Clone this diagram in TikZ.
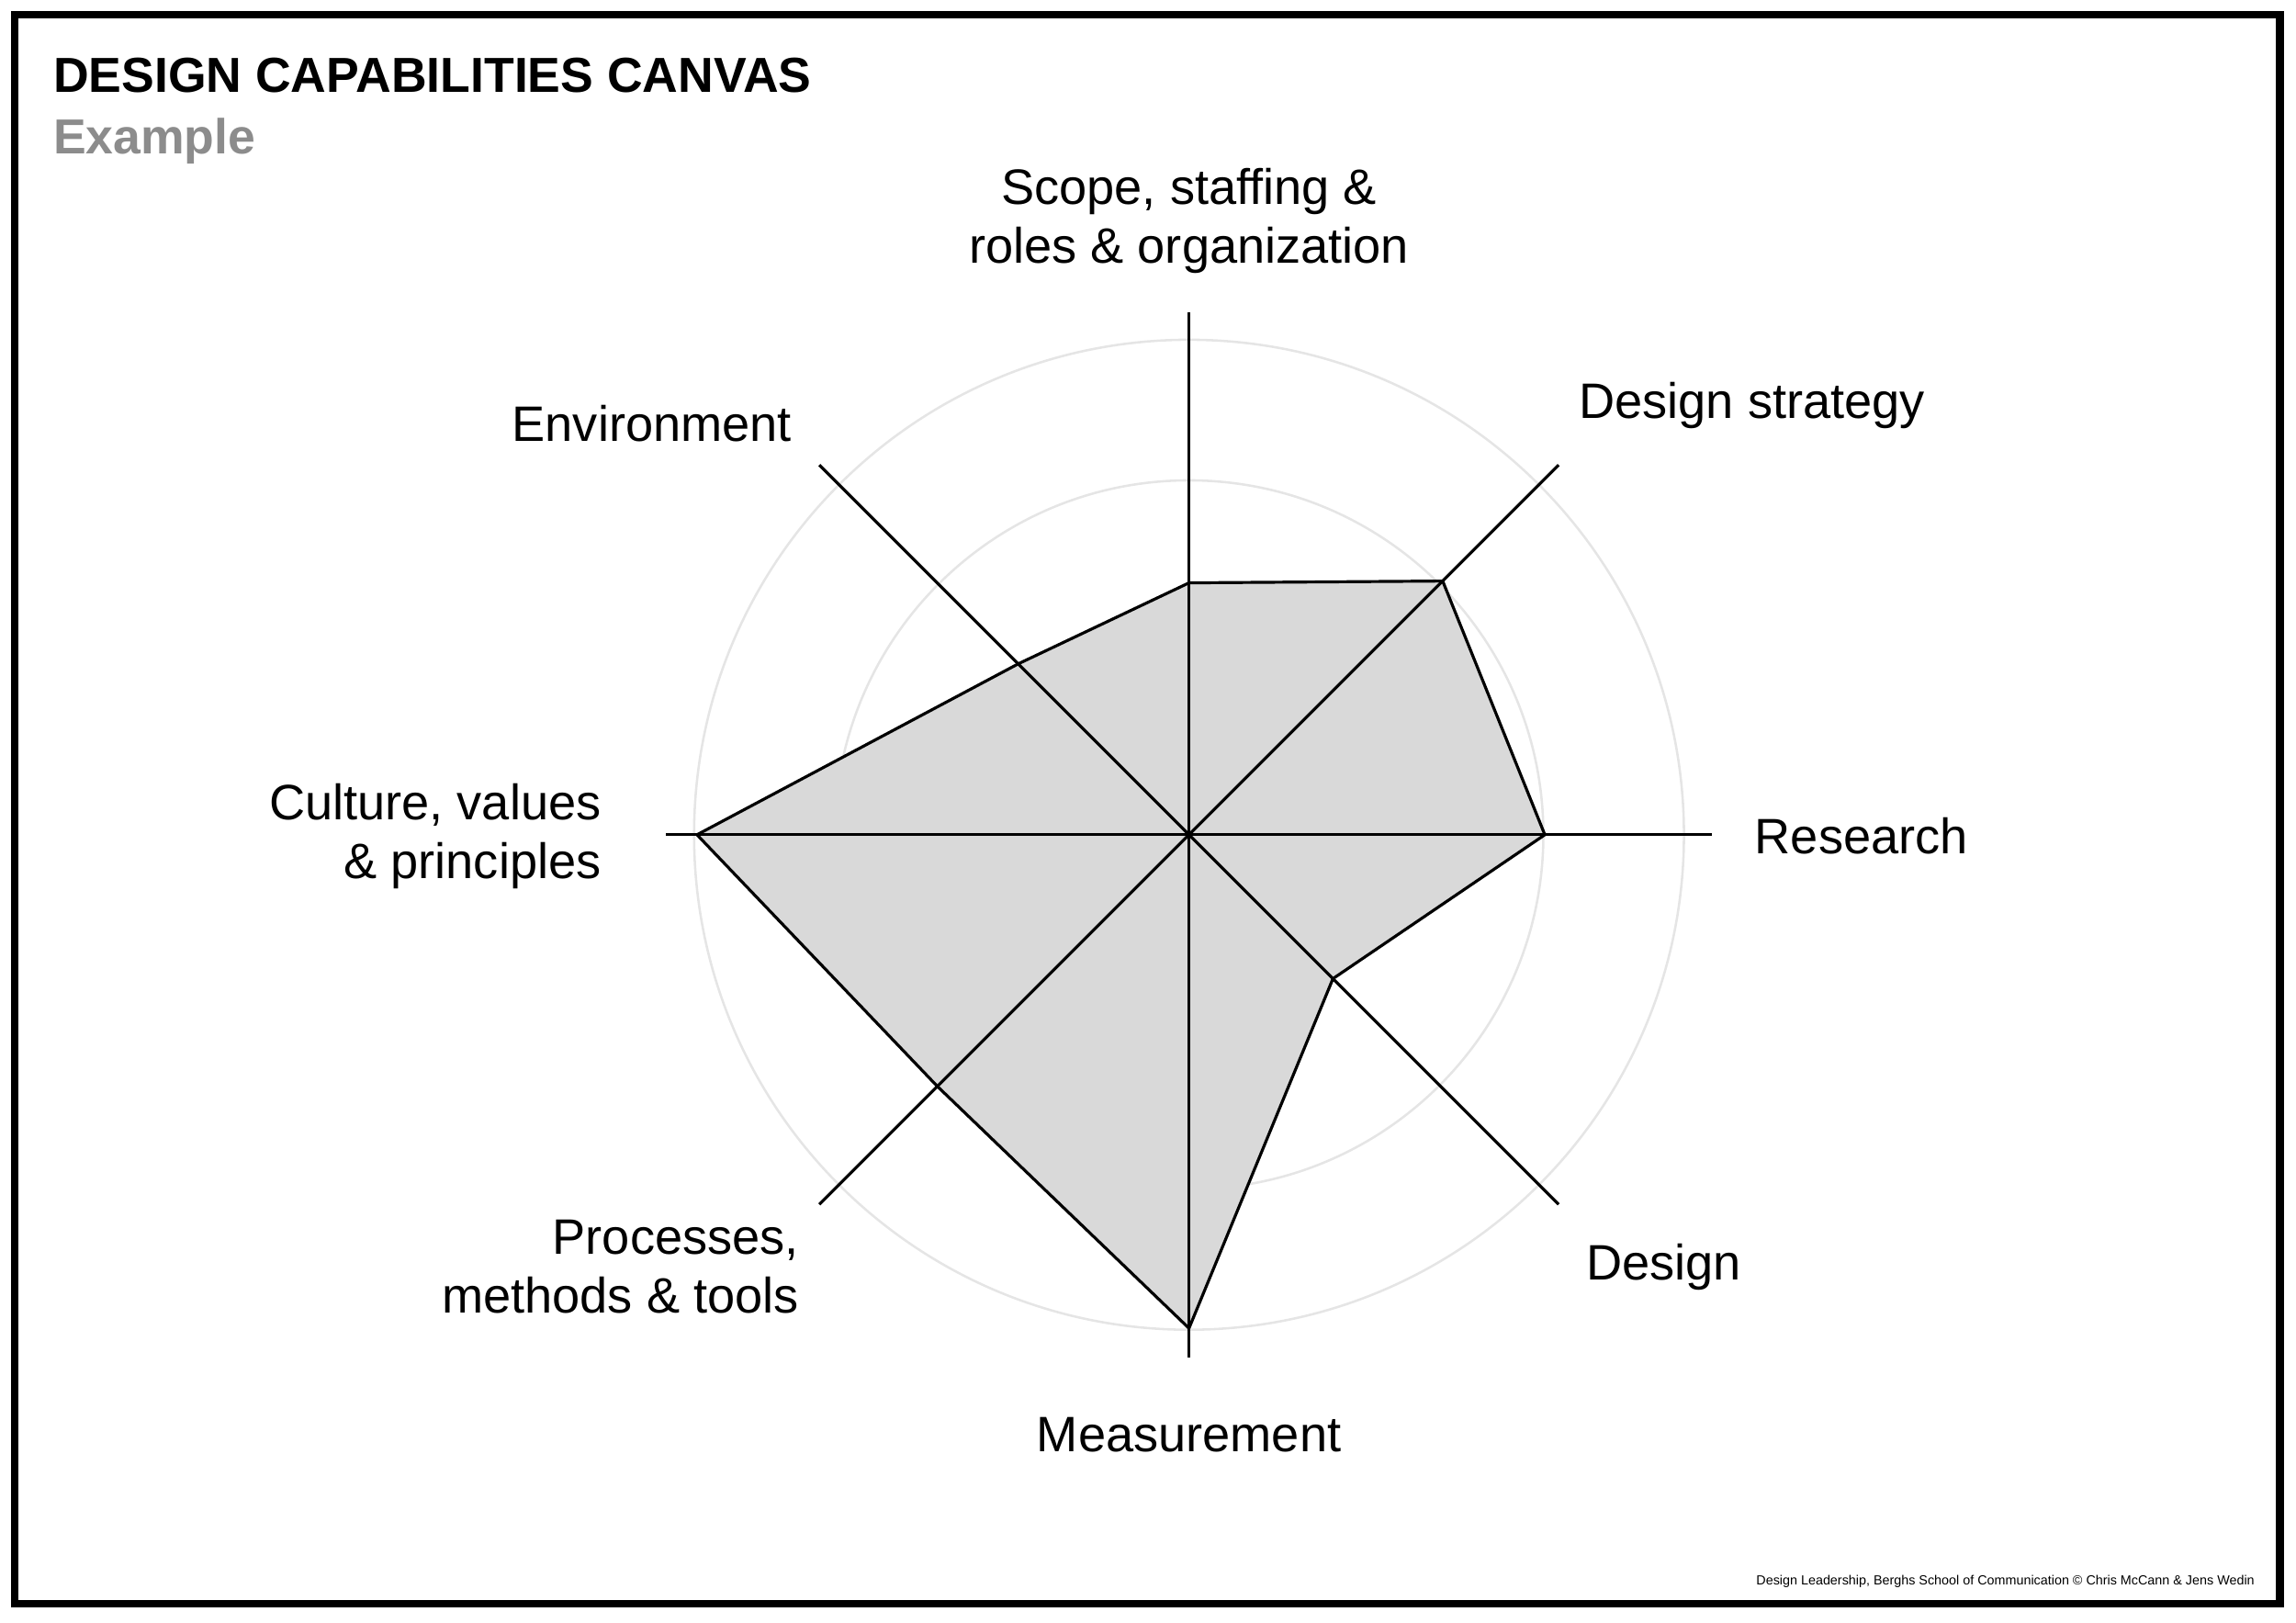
\documentclass[tikz,border=0pt]{standalone}
\usepackage{fontspec}
\setmainfont{Liberation Sans}
\usetikzlibrary{calc}
\begin{document}
\begin{tikzpicture}[x=0.5pt,y=-0.5pt,
  lab/.style={font=\fontsize{17}{20}\selectfont,inner sep=0pt},
  ring/.style={draw=black!10,line width=0.8pt},
  axis/.style={draw=black,line width=1pt}]
\useasboundingbox (0,0) rectangle (1568,1108);
\draw[line width=2.6pt] (10,10) rectangle (1557,1095);
\node[anchor=base west,inner sep=0pt,font=\bfseries\fontsize{16.8}{18}\selectfont] (title) at (36,63) {DESIGN CAPABILITIES CANVAS};
\node[anchor=base west,inner sep=0pt,font=\bfseries\fontsize{16.8}{18}\selectfont,text=black!45] (ex) at (36,105) {Example};
\coordinate (c) at (812,570);
\foreach \r in {137,242,338} \draw[ring] (c) circle[radius=\r];
\fill[black!15,draw=black,line width=1pt,line join=round]
  ($(c)+(-90:172)$) -- ($(c)+(-45:245)$) -- ($(c)+(0:243)$) -- ($(c)+(45:139)$)
  -- ($(c)+(90:337)$) -- ($(c)+(135:243)$) -- ($(c)+(180:336)$) -- ($(c)+(-135:165)$) -- cycle;
\foreach \a in {0,45,...,315} \draw[axis] ($(c)+(\a:-357)$) -- (c);
\node[lab,align=center] (scope) at (812,151) {Scope, staffing \&\\roles \& organization};
\node[lab,anchor=west] (ds) at (1078,277) {Design strategy};
\node[lab,anchor=west] (res) at (1198,571) {Research};
\node[lab,anchor=west] (des) at (1083,865) {Design};
\node[lab] (mea) at (812,980) {Measurement};
\node[lab,anchor=east,align=right] (proc) at (546,865) {Processes,\\methods \& tools};
\node[lab,anchor=east,align=right] (cul) at (411,571) {Culture, values\\\& principles};
\node[lab,anchor=east] (env) at (541,289) {Environment};
\node[anchor=base east,inner sep=0pt,font=\fontsize{4.5}{5}\selectfont] (foot) at (1540,1082) {Design Leadership, Berghs School of Communication © Chris McCann \& Jens Wedin};
\end{tikzpicture}
\end{document}
